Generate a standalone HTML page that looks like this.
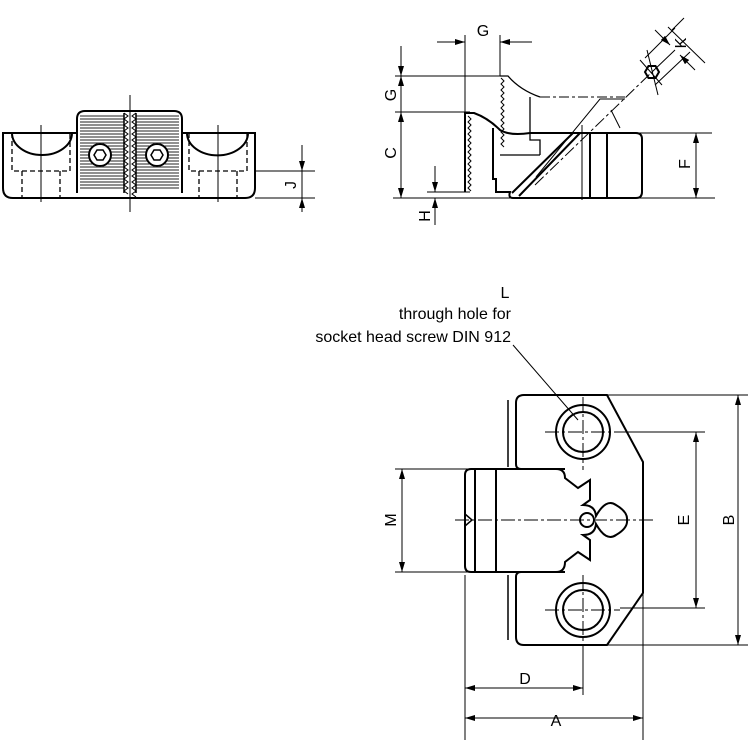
<!DOCTYPE html>
<html><head><meta charset="utf-8"><style>
html,body{margin:0;padding:0;background:#fff}
svg{display:block}
text{font-family:"Liberation Sans",sans-serif;font-size:16px;fill:#000}
</style></head><body>
<svg width="750" height="747" viewBox="0 0 750 747" xmlns="http://www.w3.org/2000/svg">
<defs>
<marker id="a" viewBox="0 0 10 6" refX="10" refY="3" markerWidth="10" markerHeight="6" orient="auto-start-reverse" markerUnits="userSpaceOnUse"><path d="M0,0 L10,3 L0,6 z" fill="#000"/></marker>
</defs>
<g fill="none" stroke="#000" stroke-width="1">
<!-- LEFT VIEW -->
<g stroke="#222" stroke-width="1">
<path d="M80,116 H179 M80,119 H179 M80,122 H179 M80,125 H179 M80,128 H179 M80,131 H179 M80,134 H179 M80,137 H179 M80,140 H179 M80,143 H179 M80,146 H179 M80,149 H179 M80,152 H179 M80,155 H179 M80,158 H179 M80,161 H179 M80,164 H179 M80,167 H179 M80,170 H179 M80,173 H179 M80,176 H179 M80,179 H179 M80,182 H179 M80,185 H179 M80,188 H179"/>
</g>
<circle cx="100" cy="155" r="12" fill="#fff" stroke="none"/>
<circle cx="157" cy="155" r="12" fill="#fff" stroke="none"/>
<g stroke-width="2">
<path d="M77,133 H3 V188 Q3,198 13,198 H245 Q255,198 255,188 V133 H182"/>
<path d="M77,193 V119 Q77,111 85,111 H174 Q182,111 182,119 V193"/>
<path d="M12,133 A30,22 0 0 0 72,133"/>
<path d="M187,133 A30,22 0 0 0 248,133"/>
<circle cx="100" cy="155" r="11"/><circle cx="157" cy="155" r="11"/>
</g>
<path d="M94,155 l3,-5 h6 l3,5 l-3,5 h-6z M151,155 l3,-5 h6 l3,5 l-3,5 h-6z" stroke-width="1.5"/>
<rect x="124" y="113" width="12" height="80" fill="#fff" stroke="none"/>
<path d="M124,113 V193 M136,113 V193" stroke-width="1.5"/>
<path d="M124,113 l4,3 l-4,3 l4,3 l-4,3 l4,3 l-4,3 l4,3 l-4,3 l4,3 l-4,3 l4,3 l-4,3 l4,3 l-4,3 l4,3 l-4,3 l4,3 l-4,3 l4,3 l-4,3 l4,3 l-4,3 l4,3 l-4,3 l4,3 l-4,3 l4,3"/>
<path d="M136,113 l-4,3 l4,3 l-4,3 l4,3 l-4,3 l4,3 l-4,3 l4,3 l-4,3 l4,3 l-4,3 l4,3 l-4,3 l4,3 l-4,3 l4,3 l-4,3 l4,3 l-4,3 l4,3 l-4,3 l4,3 l-4,3 l4,3 l-4,3 l4,3 l-4,3 l4,3"/>
<g stroke-dasharray="5,3" stroke-width="1.3">
<path d="M12,133 V171 H70 V133 M22,171 V198 M60,171 V198"/>
<path d="M189,133 V171 H247 V133 M199,171 V198 M237,171 V198"/>
</g>
<path d="M130,95 V212 M41,125 V202 M218,125 V202" stroke-width="1"/>
<path d="M255,171 H315 M255,198 H315"/>
<line x1="302" y1="145" x2="302" y2="171" marker-end="url(#a)"/>
<line x1="302" y1="212" x2="302" y2="198" marker-end="url(#a)"/>
<line x1="302" y1="171" x2="302" y2="198"/>

<!-- TOP RIGHT VIEW -->
<line x1="437" y1="42" x2="465" y2="42" marker-end="url(#a)"/>
<line x1="532" y1="42" x2="500" y2="42" marker-end="url(#a)"/>
<path d="M465,35 V192 M500,35 V76"/>
<path d="M395,76 H500 M395,112 H470 M393,198 H715 M427,192 H470 M600,133 H712"/>
<line x1="401" y1="46" x2="401" y2="76" marker-end="url(#a)"/>
<line x1="401" y1="112" x2="401" y2="76" marker-end="url(#a)"/>
<line x1="401" y1="112" x2="401" y2="198" marker-end="url(#a)"/>
<line x1="401" y1="198" x2="401" y2="112" marker-end="url(#a)"/>
<line x1="435" y1="166" x2="435" y2="192" marker-end="url(#a)"/>
<line x1="435" y1="225" x2="435" y2="198" marker-end="url(#a)"/>
<line x1="696" y1="133" x2="696" y2="198" marker-end="url(#a)"/>
<line x1="696" y1="198" x2="696" y2="133" marker-end="url(#a)"/>
<g stroke-width="2">
<path d="M465,192 V113 H474 Q488,118 500,130 Q510,136 530,133 H636 Q642,133 642,139 V192 Q642,198 636,198 H513 Q508,198 510,192 H496 V179 H493 V128"/>
<path d="M590,133 V198 M607,133 V198"/>
<path d="M512,193 L573,133 M519,196 L580,133"/>
</g>
<path d="M468,116 l3,3 l-3,3 l3,3 l-3,3 l3,3 l-3,3 l3,3 l-3,3 l3,3 l-3,3 l3,3 l-3,3 l3,3 l-3,3 l3,3 l-3,3 l3,3 l-3,3 l3,3 l-3,3 l3,3 l-3,3 l3,3 l-3,3 l3,3"/>
<path d="M501,78 l3,3 l-3,3 l3,3 l-3,3 l3,3 l-3,3 l3,3 l-3,3 l3,3 l-3,3 l3,3 l-3,3 l3,3 l-3,3 l3,3 l-3,3 l3,3 l-3,3 l3,3 l-3,3 l3,3 l-3,3 l3,3"/>
<path d="M500,76 L508,76 Q520,90 540,97 M530,97 V140 H540 V155 M500,155 H540" stroke-width="1.3"/>
<path d="M540,97 H625" stroke-dasharray="10,3,3,3"/>
<path d="M536,177 L600,99 H625 M611,110 L620,128 M582,200 V125" />
<path d="M535,185 L652,72" stroke-dasharray="12,3,3,3"/>
<path d="M652,72 L675,50 M640,60 L662,85 M647,50 L658,95"/>
<path d="M645,72 l3.5,-6 h7 l3.5,6 l-3.5,6 h-7 z" stroke-width="2"/>
<path d="M655,85 L690,52 M645,58 L675,28 M672,30 L684,18 M668,27 L705,63"/>
<line x1="655" y1="30" x2="670" y2="45" marker-end="url(#a)"/>
<line x1="695" y1="70" x2="680" y2="55" marker-end="url(#a)"/>

<!-- BOTTOM VIEW -->
<g stroke-width="2">
<path d="M565,469 H521 Q516,469 516,464 V403 Q516,395 524,395 H607 L643,462 V593 L607,645 H524 Q516,645 516,637 V577 Q516,572 521,572 H565"/>
<path d="M508,400 V467 M508,575 V640" stroke-width="1.5"/>
<path d="M471,469 H556 Q565,469 565,478 L578,488 L590,480 V500 L583,505 Q595,505 596,516 Q606,498 616,505 Q628,512 627,520 Q628,528 616,535 Q606,542 596,524 Q595,535 583,535 L590,540 V560 L578,552 L565,562 Q565,572 556,572 H471 Q465,572 465,566 V475 Q465,469 471,469 Z"/>
<path d="M475,469 V572 M496,469 V572"/>
<circle cx="583" cy="432" r="20"/><circle cx="583" cy="432" r="27"/>
<circle cx="583" cy="610" r="20"/><circle cx="583" cy="610" r="27"/>
<circle cx="587" cy="520" r="7"/>
</g>
<path d="M465,514 L472,520 L465,526" stroke-width="1.5"/>
<path d="M455,520 H655" stroke-dasharray="14,3,3,3"/>
<path d="M545,432 H620 M583,397 V470 M545,610 H620 M583,575 V650" stroke-dasharray="14,3,3,3"/>
<path d="M395,469 H470 M395,572 H470 M620,432 H705 M620,608 H705 M607,395 H748 M607,645 H748"/>
<path d="M465,575 V740 M643,593 V740 M583,650 V695"/>
<line x1="402" y1="520" x2="402" y2="469" marker-end="url(#a)"/>
<line x1="402" y1="520" x2="402" y2="572" marker-end="url(#a)"/>
<line x1="696" y1="520" x2="696" y2="432" marker-end="url(#a)"/>
<line x1="696" y1="520" x2="696" y2="608" marker-end="url(#a)"/>
<line x1="738" y1="520" x2="738" y2="395" marker-end="url(#a)"/>
<line x1="738" y1="520" x2="738" y2="645" marker-end="url(#a)"/>
<line x1="520" y1="688" x2="465" y2="688" marker-end="url(#a)"/>
<line x1="520" y1="688" x2="583" y2="688" marker-end="url(#a)"/>
<line x1="550" y1="718" x2="465" y2="718" marker-end="url(#a)"/>
<line x1="550" y1="718" x2="643" y2="718" marker-end="url(#a)"/>
<path d="M513,345 L578,420"/>
</g>
<!-- labels -->
<text x="483" y="36" text-anchor="middle">G</text>
<text transform="translate(396,95) rotate(-90)" text-anchor="middle">G</text>
<text transform="translate(396,153) rotate(-90)" text-anchor="middle">C</text>
<text transform="translate(430,216) rotate(-90)" text-anchor="middle">H</text>
<text transform="translate(690,164) rotate(-90)" text-anchor="middle">F</text>
<text transform="translate(686,43) rotate(-90)" text-anchor="middle">K</text>
<text transform="translate(296,185) rotate(-90)" text-anchor="middle">J</text>
<text x="505" y="298" text-anchor="middle">L</text>
<text x="511" y="319" text-anchor="end">through hole for</text>
<text x="511" y="342" text-anchor="end">socket head screw DIN 912</text>
<text transform="translate(396,520) rotate(-90)" text-anchor="middle">M</text>
<text transform="translate(689,520) rotate(-90)" text-anchor="middle">E</text>
<text transform="translate(734,520) rotate(-90)" text-anchor="middle">B</text>
<text x="525" y="684" text-anchor="middle">D</text>
<text x="556" y="726" text-anchor="middle">A</text>
</svg>
</body></html>
